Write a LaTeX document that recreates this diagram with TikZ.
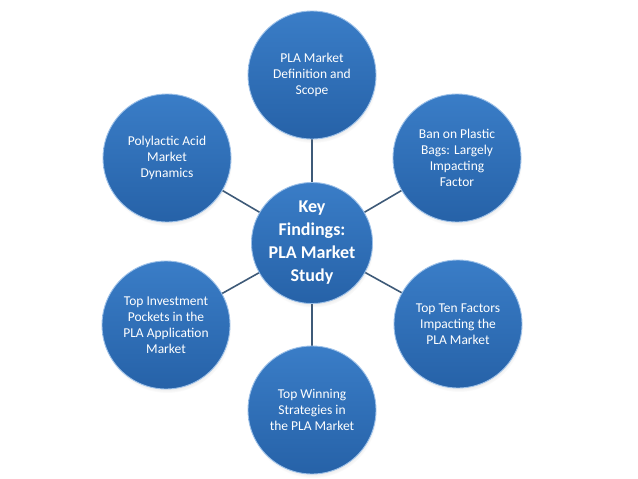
\documentclass[tikz,border=0pt]{standalone}
\usepackage{fontspec}
\setmainfont{Carlito}
\usetikzlibrary{shadows}
\definecolor{ctop}{HTML}{3A7DC7}
\definecolor{cbot}{HTML}{2662A8}
\definecolor{cring}{HTML}{9CC0E8}
\definecolor{conn}{HTML}{3E5A78}
\tikzset{
  bubble/.style={circle, inner sep=0pt, minimum size=128pt, top color=ctop, bottom color=cbot,
    draw=cring, line width=0.9pt, text=white, align=center,
    font=\fontsize{13.5}{16}\selectfont,
    circular drop shadow={shadow xshift=1pt, shadow yshift=-4pt, opacity=0.3, shadow scale=1.0}},
  hub/.style={bubble, minimum size=121pt, font=\bfseries\fontsize{18}{23}\selectfont},
  link/.style={draw=conn, line width=1.6pt}
}
\begin{document}
\begin{tikzpicture}[x=1pt,y=-1pt]
\useasboundingbox[fill=white] (0,0) rectangle (638,479);
\coordinate (pc) at (312,243);
\coordinate (pt) at (312,75);
\coordinate (ptr) at (457,158);
\coordinate (pbr) at (458,324);
\coordinate (pb) at (312,410);
\coordinate (pbl) at (166,325);
\coordinate (ptl) at (167,158);
\draw[link] (pc) -- (pt);
\draw[link] (pc) -- (ptr);
\draw[link] (pc) -- (pbr);
\draw[link] (pc) -- (pb);
\draw[link] (pc) -- (pbl);
\draw[link] (pc) -- (ptl);
\node[bubble] (t) at (pt) {PLA Market\\Definition and\\Scope};
\node[bubble] (tr) at (ptr) {Ban on Plastic\\Bags: Largely\\Impacting\\Factor};
\node[bubble] (br) at (pbr) {Top Ten Factors\\Impacting the\\PLA Market};
\node[bubble] (b) at (pb) {Top Winning\\Strategies in\\the PLA Market};
\node[bubble] (bl) at (pbl) {Top Investment\\Pockets in the\\PLA Application\\Market};
\node[bubble] (tl) at (ptl) {Polylactic Acid\\Market\\Dynamics};
\node[hub] (c) at (pc) {Key\\Findings:\\PLA Market\\Study};
\end{tikzpicture}
\end{document}
